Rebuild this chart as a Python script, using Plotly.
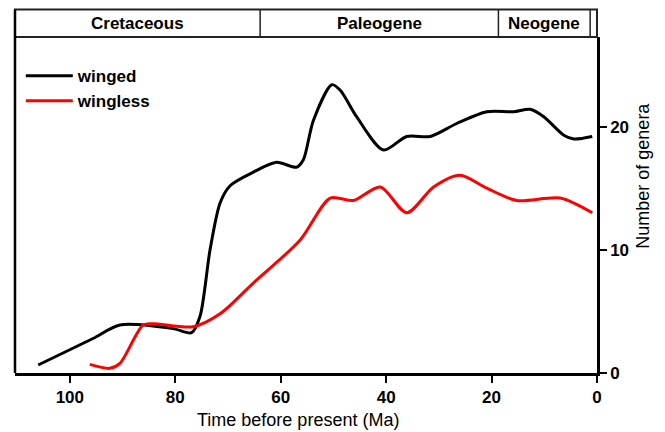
import plotly.graph_objects as go

# Data (Ma before present, number of genera)
winged_ma = [106.0, 95.6, 90.5, 80.4, 76.9, 75.3, 73.4, 71.5, 69.6, 65.2, 60.8, 57.0, 55.7,
             53.8, 50.3, 48.7, 45.6, 40.5, 36.1, 31.6, 26.6, 20.9, 15.8, 12.7, 10.1, 6.3, 4.4, 0.9]
winged_n = [0.65, 2.8, 3.9, 3.6, 3.27, 4.6, 10.0, 13.8, 15.2, 16.3, 17.1, 16.7, 17.3,
            20.5, 23.4, 22.95, 20.8, 18.1, 19.2, 19.2, 20.25, 21.2, 21.2, 21.4, 20.8, 19.3, 19.0, 19.2]

wingless_ma = [96.2, 92.4, 90.5, 86.1, 84.2, 76.6, 71.5, 65.2, 56.3, 50.6, 46.2, 41.1, 36.1,
               31.0, 26.0, 20.9, 15.2, 7.0, 0.9]
wingless_n = [0.7, 0.38, 0.78, 3.9, 4.0, 3.75, 4.8, 7.3, 10.8, 14.2, 14.0, 15.1, 13.0,
              15.1, 16.05, 15.0, 14.0, 14.2, 13.0]

period_names = ["Cretaceous", "Paleogene", "Neogene", ""]
period_bounds = [110.4, 63.9, 18.7, 1.3, 0.0]

x_ticks = [100, 80, 60, 40, 20, 0]
y_ticks = [0, 10, 20]

FONT = "Liberation Sans, Arial, sans-serif"

fig = go.Figure()
fig.add_trace(go.Scatter(x=winged_ma, y=winged_n, mode="lines", name="<b>winged</b>",
                         line=dict(color="black", width=3, shape="spline", smoothing=0.8)))
fig.add_trace(go.Scatter(x=wingless_ma, y=wingless_n, mode="lines", name="<b>wingless</b>",
                         line=dict(color="#ff0000", width=3, shape="spline", smoothing=0.8)))

head_h = 27.5 / 336.0
shapes = []
# header box
shapes.append(dict(type="rect", xref="paper", yref="paper", x0=0, x1=1, y0=1, y1=1 + head_h,
                   line=dict(color="#222", width=2)))
# left frame line
shapes.append(dict(type="line", xref="paper", yref="paper", x0=0, x1=0, y0=0, y1=1 + head_h,
                   line=dict(color="black", width=2.5)))
for b in period_bounds[1:-1]:
    shapes.append(dict(type="line", xref="x", yref="paper", x0=b, x1=b, y0=1, y1=1 + head_h,
                       line=dict(color="#222", width=1.5)))

annotations = []
for i, name in enumerate(period_names):
    if not name:
        continue
    mid = (period_bounds[i] + period_bounds[i + 1]) / 2
    annotations.append(dict(x=mid, xref="x", y=1 + head_h / 2, yref="paper", text=f"<b>{name}</b>",
                            showarrow=False, font=dict(size=17, color="black", family=FONT),
                            xanchor="center", yanchor="middle"))

annotations.append(dict(x=(298 - 15) / 582, xref="paper", y=-47 / 336, yref="paper",
                        text="Time before present (Ma)", showarrow=False,
                        font=dict(size=18, color="black", family=FONT),
                        xanchor="center", yanchor="middle"))
annotations.append(dict(x=1 + 46 / 582, xref="paper", y=(373.3 - 176) / 336, yref="paper",
                        text="Number of genera", showarrow=False, textangle=-90,
                        font=dict(size=18, color="black", family=FONT),
                        xanchor="center", yanchor="middle"))

fig.update_layout(
    width=665, height=432,
    margin=dict(l=15, r=68, t=37, b=59),
    paper_bgcolor="white", plot_bgcolor="white",
    showlegend=True,
    legend=dict(x=0.01, y=0.937, xanchor="left", yanchor="top",
                font=dict(size=17, color="black", family=FONT),
                bgcolor="rgba(0,0,0,0)", itemwidth=47, tracegroupgap=0),
    shapes=shapes,
    annotations=annotations,
    font=dict(family=FONT, color="black"),
)
fig.update_xaxes(range=[110.4, 0], tickvals=x_ticks, ticktext=[f"<b>{t}</b>" for t in x_ticks],
                 showline=True, linecolor="black", linewidth=2.5, ticks="outside", ticklen=7,
                 tickwidth=2, tickcolor="black", showgrid=False, zeroline=False,
                 tickfont=dict(size=17, family=FONT, color="black"))
fig.update_yaxes(range=[0, 27.27], side="right", tickvals=y_ticks,
                 ticktext=[f"<b>{t}</b>" for t in y_ticks],
                 showline=True, linecolor="black", linewidth=2.5, ticks="outside", ticklen=7,
                 tickwidth=2, tickcolor="black", showgrid=False, zeroline=False,
                 tickfont=dict(size=17, family=FONT, color="black"))

fig.write_html("out.html")
